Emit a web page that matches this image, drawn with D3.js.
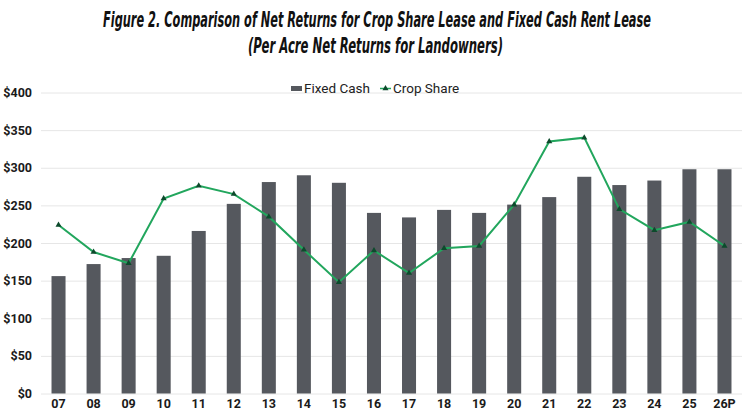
<!DOCTYPE html>
<html lang="en">
<head>
    <meta charset="UTF-8">
    <title>Figure 2</title>
    <script src="https://cdn.jsdelivr.net/npm/d3@7"></script>
    <style>
        body {
            margin: 0;
            background: #ffffff;
        }

        svg {
            display: block;
        }

        .title {
            font-family: "DejaVu Sans Condensed", "DejaVu Sans", sans-serif;
            font-weight: bold;
            font-style: italic;
            font-size: 21px;
            fill: #111111;
        }

        .tick text {
            font-family: Roboto, Inter, sans-serif;
            font-weight: bold;
            font-size: 12.5px;
            fill: #1a1a1a;
        }

        .legend text {
            font-family: Roboto, "Noto Sans", sans-serif;
            font-size: 13.5px;
            fill: #222222;
        }
    </style>
</head>
<body>
<svg class="chart" width="750" height="417"></svg>

<script>

    // years shown on the x axis
    var years = ['07', '08', '09', '10', '11', '12', '13', '14', '15', '16',
        '17', '18', '19', '20', '21', '22', '23', '24', '25', '26P'];
    // per acre net returns, $
    var fixedCash = [156, 172, 180, 183, 216, 252, 281, 290, 280, 240,
        234, 244, 240, 251, 261, 288, 277, 283, 298, 298];
    var cropShare = [224, 188, 173, 259, 276, 265, 235, 191, 148, 190,
        160, 193, 196, 251, 335, 340, 245, 217, 228, 196];
    var yTicks = [0, 50, 100, 150, 200, 250, 300, 350, 400];
    var titleLines = [
        'Figure 2. Comparison of Net Returns for Crop Share Lease and Fixed Cash Rent Lease',
        '(Per Acre Net Returns for Landowners)'
    ];

    var svg = d3.select('.chart');
    var plotLeft = 41, plotRight = 742, plotTop = 92.5, plotBottom = 393.5;

    var x = d3.scaleBand()
        .domain(years)
        .range([plotLeft, plotRight])
        .paddingInner(0.6)
        .paddingOuter(0.3);

    var y = d3.scaleLinear()
        .domain([0, 400])
        .range([plotBottom, plotTop]);

    // title
    svg.append('text')
        .attr('class', 'title')
        .attr('x', 103).attr('y', 27)
        .attr('textLength', 548)
        .attr('lengthAdjust', 'spacingAndGlyphs')
        .text(titleLines[0]);
    svg.append('text')
        .attr('class', 'title')
        .attr('x', 248).attr('y', 53)
        .attr('textLength', 255)
        .attr('lengthAdjust', 'spacingAndGlyphs')
        .text(titleLines[1]);

    // grid + y axis
    var yAxis = svg.append('g')
        .attr('transform', 'translate(' + plotLeft + ',0)')
        .call(d3.axisLeft(y)
            .tickValues(yTicks)
            .tickSize(-(plotRight - plotLeft))
            .tickPadding(9)
            .tickFormat(function (d) {
                return '$' + d;
            }));
    yAxis.select('.domain').remove();
    yAxis.selectAll('.tick line')
        .attr('stroke', '#e6e6e6')
        .attr('stroke-width', 1);

    // x axis labels
    var xAxis = svg.append('g')
        .attr('transform', 'translate(0,' + plotBottom + ')')
        .call(d3.axisBottom(x).tickSize(0).tickPadding(6));
    xAxis.select('.domain').remove();

    // bars
    svg.append('g')
        .selectAll('rect')
        .data(fixedCash)
        .enter()
        .append('rect')
        .attr('x', function (d, i) {
            return x(years[i]);
        })
        .attr('y', function (d) {
            return y(d);
        })
        .attr('width', x.bandwidth())
        .attr('height', function (d) {
            return y(0) - y(d);
        })
        .attr('fill', '#55585e');

    // crop share line
    var line = d3.line()
        .x(function (d, i) {
            return x(years[i]) + x.bandwidth() / 2;
        })
        .y(function (d) {
            return y(d);
        });

    svg.append('path')
        .datum(cropShare)
        .attr('d', line)
        .attr('fill', 'none')
        .attr('stroke', '#22a65d')
        .attr('stroke-width', 2);

    var tri = d3.symbol().type(d3.symbolTriangle).size(16);
    svg.append('g')
        .selectAll('path')
        .data(cropShare)
        .enter()
        .append('path')
        .attr('d', tri)
        .attr('transform', function (d, i) {
            return 'translate(' + (x(years[i]) + x.bandwidth() / 2) + ',' + y(d) + ')';
        })
        .attr('fill', '#0d4a2c');

    // legend
    var legend = svg.append('g').attr('class', 'legend');
    legend.append('rect')
        .attr('x', 291).attr('y', 86)
        .attr('width', 11).attr('height', 5)
        .attr('fill', '#55585e');
    legend.append('text')
        .attr('x', 304).attr('y', 93)
        .text('Fixed Cash');
    legend.append('line')
        .attr('x1', 380).attr('x2', 391)
        .attr('y1', 88.5).attr('y2', 88.5)
        .attr('stroke', '#22a65d')
        .attr('stroke-width', 1.5);
    legend.append('path')
        .attr('d', tri)
        .attr('transform', 'translate(385.5,88.5)')
        .attr('fill', '#0d4a2c');
    legend.append('text')
        .attr('x', 393).attr('y', 93)
        .text('Crop Share');

</script>

</body>
</html>
